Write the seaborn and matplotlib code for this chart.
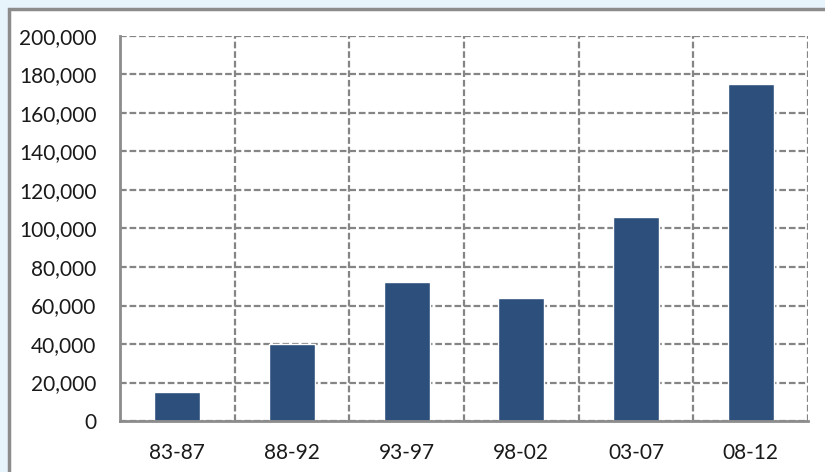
import matplotlib
matplotlib.use("Agg")
import matplotlib.pyplot as plt
from matplotlib.patches import Rectangle
from matplotlib.ticker import FuncFormatter, FixedLocator
import seaborn as sns
import pandas as pd

periods = ["83-87", "88-92", "93-97", "98-02", "03-07", "08-12"]
values = [15000, 40000, 72000, 64000, 106000, 175000]
y_ticks = list(range(0, 200001, 20000))

sns.set_style("white")
plt.rcParams["font.family"] = ["Lato", "DejaVu Sans"]

W, H = 825, 472
fig = plt.figure(figsize=(W / 100, H / 100), dpi=100)
fig.patch.set_facecolor("#e8f4fc")

# white panel with grey frame
fig.patches.append(Rectangle((9 / W, -0.1), 1.2, 1 - 9 / H + 0.1,
                             transform=fig.transFigure, facecolor="white",
                             edgecolor="#8c8c8c", linewidth=2.5, zorder=-5))

ax = fig.add_axes([120 / W, 1 - 421 / H, (808 - 120) / W, (421 - 36) / H])
ax.set_zorder(2)
ax.set_facecolor("none")

df = pd.DataFrame({"period": periods, "value": values})
sns.barplot(data=df, x="period", y="value", color="#2c4f7c", width=0.4,
            saturation=1, ax=ax, zorder=3)

ax.set_xlim(-0.5, len(periods) - 0.5)
ax.set_ylim(0, 200000)
ax.set_yticks(y_ticks)
ax.yaxis.set_major_formatter(FuncFormatter(lambda v, p: f"{int(v):,}"))
ax.set_xlabel("")
ax.set_ylabel("")

# category boundaries as minor ticks for the vertical grid
ax.xaxis.set_minor_locator(FixedLocator([i - 0.5 for i in range(len(periods) + 1)]))
ax.tick_params(axis="x", which="major", length=0, pad=16, labelsize=15, colors="#1a1a1a")
ax.tick_params(axis="x", which="minor", length=7, width=2, color="#8c8c8c", direction="out")
ax.tick_params(axis="y", which="major", length=7, width=2, color="#8c8c8c",
               direction="out", labelsize=15, labelcolor="#1a1a1a", pad=10)

grid_kw = dict(color="#858585", linestyle=(0, (3, 1.3)), linewidth=1.6)
ax.grid(False)
ax.yaxis.grid(True, which="major", **grid_kw)
ax.xaxis.grid(True, which="minor", **grid_kw)
ax.set_axisbelow(True)

for side in ("top", "right"):
    ax.spines[side].set_visible(False)
for side in ("left", "bottom"):
    ax.spines[side].set_color("#8c8c8c")
    ax.spines[side].set_linewidth(2)
    ax.spines[side].set_zorder(4)

fig.savefig("out.png", dpi=100, facecolor=fig.get_facecolor())
